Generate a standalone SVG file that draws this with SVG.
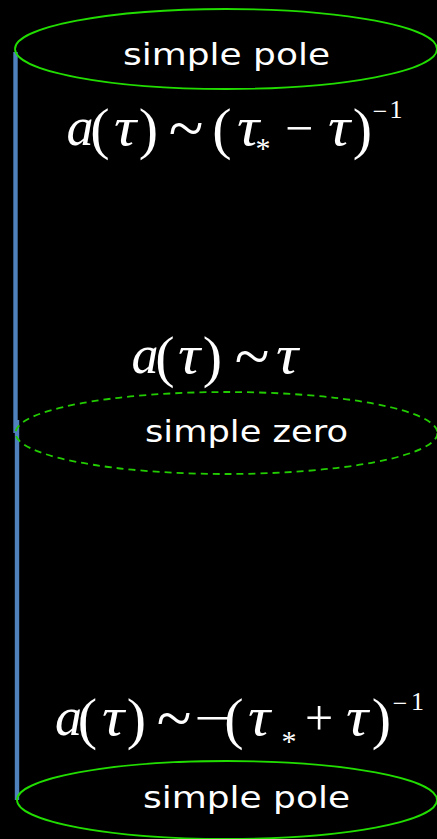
<svg xmlns="http://www.w3.org/2000/svg" width="437" height="839" viewBox="0 0 437 839">
  <style>
    .ring { fill: none; stroke: #22dd00; stroke-width: 1.8; }
    .dash { fill: none; stroke: #22cc00; stroke-width: 1.8; stroke-dasharray: 7 5; }
    .lbl { font-family: "DejaVu Sans", sans-serif; font-size: 30px; fill: #ffffff; text-anchor: middle; }
    .m { font-family: "Liberation Serif", "Times New Roman", serif; font-size: 50px; fill: #ffffff; text-anchor: middle; }
    .i { font-style: italic; font-size: 54px; }
    .p { font-size: 58px; }
    .t { font-size: 64px; }
    .sup { font-size: 26px; }
    .sub { font-size: 30px; }
    .axis { stroke: #4f81bd; stroke-width: 4.4; fill: none; }
  </style>
  <rect x="0" y="0" width="437" height="839" fill="#000000"/>

  <g id="connectors">
    <line class="axis" x1="15.5" y1="52" x2="15.5" y2="433"/>
    <line class="axis" x1="17" y1="420" x2="17" y2="800"/>
  </g>

  <g id="pole-top">
    <ellipse class="ring" cx="226" cy="49" rx="211" ry="40"/>
    <text class="lbl" x="226.5" y="65" textLength="207" lengthAdjust="spacingAndGlyphs">simple pole</text>
  </g>

  <g id="formula-top">
    <text class="m i" x="80" y="145">a</text>
    <text class="m p" x="100" y="148">(</text>
    <text class="m i" x="0" y="0" transform="translate(125,145) scale(1.15,1)">τ</text>
    <text class="m p" x="148.5" y="148">)</text>
    <text class="m t" x="186" y="150">~</text>
    <text class="m p" x="222" y="148">(</text>
    <text class="m i" x="0" y="0" transform="translate(248,145) scale(1.15,1)">τ</text>
    <text class="m sub" x="263" y="158">*</text>
    <text class="m" x="299" y="145">−</text>
    <text class="m i" x="0" y="0" transform="translate(339,145) scale(1.15,1)">τ</text>
    <text class="m p" x="362.5" y="148">)</text>
    <text class="m sup" x="380" y="120">−</text>
    <text class="m sup" x="396" y="118">1</text>
  </g>

  <g id="formula-mid">
    <text class="m i" x="145" y="373">a</text>
    <text class="m p" x="165" y="376">(</text>
    <text class="m i" x="0" y="0" transform="translate(189,373) scale(1.15,1)">τ</text>
    <text class="m p" x="212.5" y="376">)</text>
    <text class="m t" x="252" y="378">~</text>
    <text class="m i" x="0" y="0" transform="translate(287,373) scale(1.15,1)">τ</text>
  </g>

  <g id="zero-mid">
    <ellipse class="dash" cx="226.5" cy="433" rx="211" ry="41"/>
    <text class="lbl" x="246.5" y="442" textLength="203" lengthAdjust="spacingAndGlyphs">simple zero</text>
  </g>

  <g id="formula-bottom">
    <text class="m i" x="68.5" y="735">a</text>
    <text class="m p" x="87.5" y="738">(</text>
    <text class="m i" x="0" y="0" transform="translate(113,735) scale(1.15,1)">τ</text>
    <text class="m p" x="136.5" y="738">)</text>
    <text class="m t" x="174" y="740">~</text>
    <text class="m" x="0" y="0" transform="translate(213,735) scale(1.35,1)">−</text>
    <text class="m p" x="234" y="738">(</text>
    <text class="m i" x="0" y="0" transform="translate(259,735) scale(1.15,1)">τ</text>
    <text class="m sub" x="289" y="751">*</text>
    <text class="m" x="319" y="735">+</text>
    <text class="m i" x="0" y="0" transform="translate(357,735) scale(1.15,1)">τ</text>
    <text class="m p" x="381.5" y="738">)</text>
    <text class="m sup" x="400" y="712">−</text>
    <text class="m sup" x="417.5" y="710">1</text>
  </g>

  <g id="pole-bottom">
    <ellipse class="ring" cx="227" cy="800" rx="210" ry="39"/>
    <text class="lbl" x="246.5" y="808" textLength="207" lengthAdjust="spacingAndGlyphs">simple pole</text>
  </g>
</svg>
